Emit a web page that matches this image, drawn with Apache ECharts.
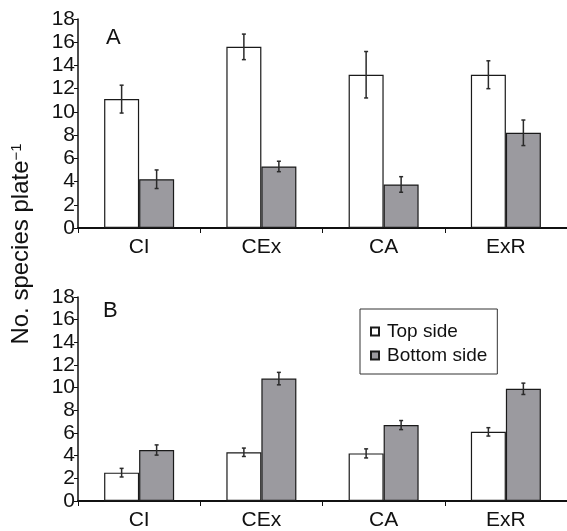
<!DOCTYPE html>
<html>
<head>
<meta charset="utf-8">
<script src="https://cdn.jsdelivr.net/npm/echarts@6/dist/echarts.min.js"></script>
<style>
  html, body { margin: 0; padding: 0; background: #fff; }
  #chart { width: 567px; height: 531px; }
</style>
</head>
<body>
<div id="chart"></div>
<script>
const categories = ["CI", "CEx", "CA", "ExR"];
const yTicks = [0, 18, 2];

// panel A
const topA = [11.1, 15.6, 13.2, 13.2];
const topAErr = [1.2, 1.1, 2.0, 1.2];
const bottomA = [4.2, 5.3, 3.75, 8.2];
const bottomAErr = [0.8, 0.45, 0.67, 1.1];

// panel B
const topB = [2.5, 4.3, 4.2, 6.1];
const topBErr = [0.38, 0.37, 0.4, 0.37];
const bottomB = [4.5, 10.8, 6.7, 9.9];
const bottomBErr = [0.45, 0.55, 0.4, 0.5];

const font = "Liberation Sans, Arial, sans-serif";
const barWidth = 35;
const greyFill = "#9b9a9f";

const chart = echarts.init(document.getElementById("chart"), null, { renderer: "canvas" });

const errData = (vals, errs) => vals.map((v, i) => [i, v - errs[i], v + errs[i]]);

const errSeries = (idx, vals, errs, side) => ({
  type: "custom",
  name: "err",
  xAxisIndex: idx,
  yAxisIndex: idx,
  z: 5,
  encode: { x: 0, y: [1, 2] },
  data: errData(vals, errs),
  renderItem(params, api) {
    const c = api.value(0);
    const lo = api.coord([c, api.value(1)]);
    const hi = api.coord([c, api.value(2)]);
    const x = lo[0] + side * barWidth / 2;
    const style = { stroke: "#2a2a2a", lineWidth: 1.5 };
    return {
      type: "group",
      children: [
        { type: "line", shape: { x1: x, y1: lo[1], x2: x, y2: hi[1] }, style },
        { type: "line", shape: { x1: x - 2, y1: lo[1], x2: x + 2, y2: lo[1] }, style },
        { type: "line", shape: { x1: x - 2, y1: hi[1], x2: x + 2, y2: hi[1] }, style },
      ],
    };
  },
});

const barSeries = (idx, name, vals, color) => ({
  type: "bar",
  name,
  xAxisIndex: idx,
  yAxisIndex: idx,
  barWidth,
  barGap: "0%",
  itemStyle: { color, borderColor: "#1a1a1a", borderWidth: 1.2 },
  data: vals,
  animation: false,
});

const xAxisFor = (idx) => ({
  type: "category",
  gridIndex: idx,
  data: categories,
  boundaryGap: true,
  axisLine: { lineStyle: { color: "#111", width: 2 } },
  axisTick: { show: true, length: 5, lineStyle: { color: "#111", width: 1 } },
  axisLabel: { color: "#111", fontSize: 21, fontFamily: font, margin: 9 },
});

const yAxisFor = (idx) => ({
  type: "value",
  gridIndex: idx,
  min: yTicks[0],
  max: yTicks[1],
  interval: yTicks[2],
  splitLine: { show: false },
  axisLine: { show: true, lineStyle: { color: "#111", width: 1.5 } },
  axisTick: { show: true, length: 4, lineStyle: { color: "#111", width: 1 } },
  axisLabel: { color: "#111", fontSize: 21, fontFamily: font, margin: 3 },
});

const option = {
  animation: false,
  backgroundColor: "#fff",
  grid: [
    { left: 78, top: 19, width: 489, height: 209 },
    { left: 78, top: 297, width: 489, height: 205 },
  ],
  xAxis: [xAxisFor(0), xAxisFor(1)],
  yAxis: [yAxisFor(0), yAxisFor(1)],
  legend: {
    data: ["Top side", "Bottom side"],
    orient: "vertical",
    left: 360,
    top: 309,
    itemWidth: 8,
    itemHeight: 8,
    itemGap: 5,
    icon: "rect",
    padding: [13, 10, 9, 10],
    borderColor: "#333",
    borderWidth: 1,
    textStyle: { color: "#111", fontSize: 19, fontFamily: font, padding: [0, 0, 0, 3] },
  },
  graphic: [
    {
      type: "text",
      left: 106,
      top: 27,
      style: { text: "A", fontSize: 22, fontFamily: font, fill: "#111" },
    },
    {
      type: "text",
      left: 103,
      top: 300,
      style: { text: "B", fontSize: 22, fontFamily: font, fill: "#111" },
    },
    {
      type: "text",
      x: 21,
      y: 244,
      rotation: Math.PI / 2,
      style: {
        text: "{m|No. species plate}{s|−1}",
        align: "center",
        verticalAlign: "middle",
        fill: "#111",
        rich: {
          m: { fontSize: 24, fontFamily: font, fill: "#111", verticalAlign: "bottom" },
          s: { fontSize: 15, fontFamily: font, fill: "#111", verticalAlign: "top" },
        },
      },
    },
  ],
  series: [
    barSeries(0, "Top side", topA, "#fff"),
    barSeries(0, "Bottom side", bottomA, greyFill),
    errSeries(0, topA, topAErr, -1),
    errSeries(0, bottomA, bottomAErr, 1),
    barSeries(1, "Top side", topB, "#fff"),
    barSeries(1, "Bottom side", bottomB, greyFill),
    errSeries(1, topB, topBErr, -1),
    errSeries(1, bottomB, bottomBErr, 1),
  ],
};

chart.setOption(option);
</script>
</body>
</html>
